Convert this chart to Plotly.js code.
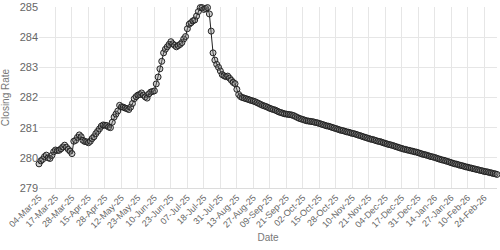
<!DOCTYPE html>
<html>
<head>
<meta charset="utf-8">
<script src="https://cdn.plot.ly/plotly-3.0.1.min.js"></script>
<style>html,body{margin:0;padding:0;background:#fff}#chart{width:500px;height:250px}</style>
</head>
<body>
<div id="chart"></div>
<script>
// Tick labels, one every 9 trading days from the first point
const tickLabels = ["04-Mar-25","17-Mar-25","28-Mar-25","15-Apr-25","28-Apr-25","12-May-25","23-May-25","10-Jun-25","23-Jun-25","07-Jul-25","18-Jul-25","31-Jul-25","13-Aug-25","27-Aug-25","09-Sep-25","21-Sep-25","02-Oct-25","15-Oct-25","28-Oct-25","10-Nov-25","21-Nov-25","04-Dec-25","17-Dec-25","31-Dec-25","14-Jan-26","27-Jan-26","10-Feb-26","24-Feb-26"];
const tickStep = 9;

// Closing rate, one value per trading day
const closingRate = [
279.80,279.90,279.95,280.04,280.09,280.00,279.98,280.08,280.20,280.26,
280.24,280.25,280.30,280.36,280.42,280.35,280.28,280.22,280.14,280.55,
280.58,280.68,280.76,280.70,280.58,280.54,280.53,280.50,280.55,280.64,
280.70,280.80,280.88,280.96,281.05,281.09,281.08,281.07,281.02,281.00,
281.18,281.35,281.45,281.55,281.74,281.69,281.68,281.65,281.63,281.60,
281.68,281.80,281.96,282.03,282.08,282.10,282.15,282.08,282.02,281.98,
282.12,282.18,282.20,282.22,282.45,282.68,282.95,283.20,283.48,283.60,
283.68,283.76,283.85,283.78,283.73,283.68,283.72,283.76,283.82,283.94,
284.02,284.28,284.43,284.48,284.54,284.57,284.70,284.85,284.98,284.98,
284.92,284.95,284.98,284.77,284.20,283.48,283.24,283.10,283.00,282.88,
282.76,282.72,282.69,282.71,282.64,282.57,282.50,282.46,282.27,282.10,
282.03,282.00,281.98,281.96,281.94,281.92,281.90,281.88,281.86,281.83,
281.80,281.77,281.74,281.72,281.70,281.67,281.64,281.62,281.60,281.58,
281.55,281.52,281.50,281.48,281.46,281.45,281.44,281.43,281.42,281.40,
281.37,281.34,281.31,281.29,281.27,281.25,281.23,281.22,281.21,281.20,
281.19,281.17,281.16,281.14,281.12,281.10,281.08,281.06,281.05,281.03,
281.01,280.99,280.97,280.95,280.93,280.91,280.90,280.88,280.86,280.85,
280.83,280.81,280.80,280.78,280.76,280.74,280.72,280.70,280.68,280.66,
280.64,280.62,280.61,280.59,280.57,280.55,280.54,280.52,280.50,280.48,
280.46,280.44,280.43,280.41,280.39,280.37,280.35,280.33,280.31,280.29,
280.28,280.26,280.25,280.23,280.22,280.20,280.19,280.17,280.15,280.13,
280.11,280.10,280.08,280.06,280.04,280.03,280.01,279.99,279.97,279.95,
279.93,279.92,279.90,279.88,279.86,279.84,279.82,279.80,279.79,279.77,
279.75,279.74,279.72,279.70,279.69,279.67,279.66,279.64,279.63,279.61,
279.60,279.58,279.57,279.55,279.54,279.53,279.51,279.50,279.48,279.47,
279.45
];

const dayIndex = closingRate.map((_, i) => i);
const tickVals = tickLabels.map((_, i) => i * tickStep);

const trace = {
  x: dayIndex,
  y: closingRate,
  type: 'scatter',
  mode: 'lines+markers',
  line: {color: '#222', width: 1},
  marker: {symbol: 'circle', size: 6, color: 'rgba(120,120,120,0.35)', line: {color: '#222', width: 1}},
  cliponaxis: false,
  hoverinfo: 'skip'
};

const fontFam = '"Liberation Sans", Arial, sans-serif';
const layout = {
  width: 500, height: 250,
  margin: {l: 39, r: 3, t: 7, b: 62, autoexpand: false},
  paper_bgcolor: '#fff', plot_bgcolor: '#fff',
  showlegend: false,
  font: {family: fontFam, color: '#666', size: 10},
  xaxis: {
    range: [0, closingRate.length - 1],
    tickmode: 'array', tickvals: tickVals, ticktext: tickLabels,
    tickangle: -45, tickfont: {size: 9, color: '#666'},
    showgrid: true, gridcolor: '#e6e6e6', gridwidth: 1,
    zeroline: false, showline: true, linecolor: '#dcdcdc', linewidth: 1,
    ticks: '', automargin: false,
    title: {text: 'Date', font: {size: 10, color: '#777'}}
  },
  yaxis: {
    range: [279, 285],
    tickvals: [279, 280, 281, 282, 283, 284, 285],
    tickfont: {size: 11, color: '#666'},
    showgrid: true, gridcolor: '#e6e6e6', gridwidth: 1,
    zeroline: false, showline: false,
    ticks: '', automargin: false,
    title: {text: 'Closing Rate', font: {size: 10, color: '#777'}}
  }
};

Plotly.newPlot('chart', [trace], layout, {staticPlot: true, displayModeBar: false});
</script>
</body>
</html>
